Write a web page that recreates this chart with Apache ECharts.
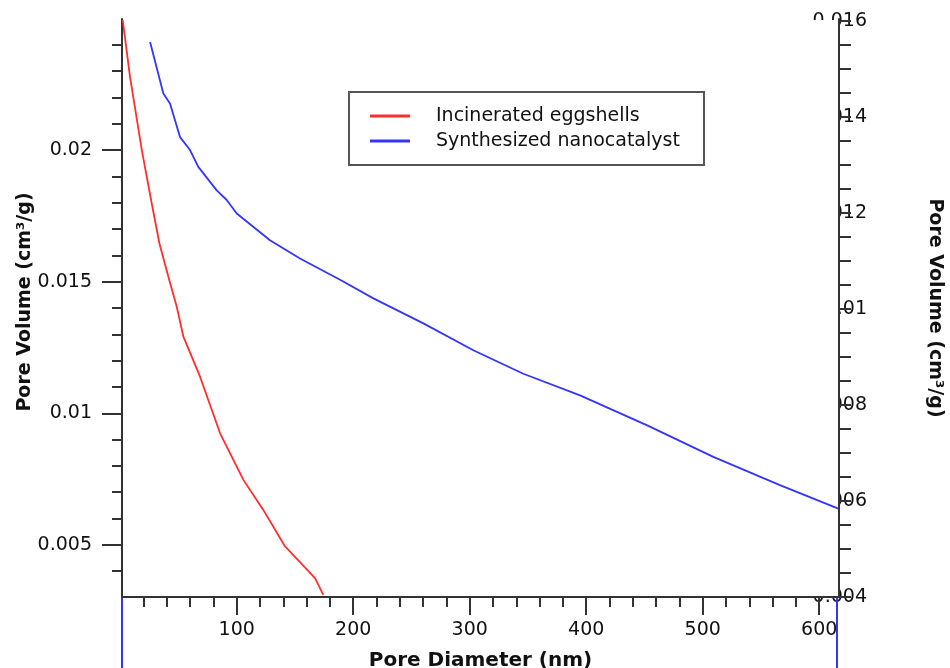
<!DOCTYPE html>
<html>
<head>
<meta charset="utf-8">
<script src="https://cdn.jsdelivr.net/npm/echarts@6/dist/echarts.min.js"></script>
<style>
  html, body { margin: 0; padding: 0; background: #fff; }
  #chart { width: 950px; height: 668px; }
</style>
</head>
<body>
<div id="chart"></div>
<script>
// Pore size distribution: cumulative pore volume against pore diameter
const seriesNames = ['Incinerated eggshells', 'Synthesized nanocatalyst'];

// Incinerated eggshells (left axis)
const eggDiameter = [2.1, 8.4, 18.5, 27.0, 33.6, 41.3, 48.5, 54.2, 68.5, 85.7, 105.7, 122.8, 141.5, 167.2, 174.3];
const eggVolume = [0.02494, 0.02278, 0.0200, 0.01798, 0.01646, 0.01519, 0.01405, 0.01291, 0.01139, 0.00924, 0.00747, 0.00633, 0.00494, 0.00374, 0.00310];

// Synthesized nanocatalyst (right axis)
const nanoDiameter = [25.6, 37.0, 42.7, 51.3, 59.9, 67.0, 82.8, 91.4, 100, 128.5, 154.3, 188.7, 217.3, 260.2, 303.1, 346.0, 394.7, 451.9, 509.1, 566.3, 616.4];
const nanoVolume = [0.01556, 0.01449, 0.01428, 0.01358, 0.01331, 0.01296, 0.01247, 0.01227, 0.01199, 0.01143, 0.01105, 0.01061, 0.01022, 0.00970, 0.00914, 0.00865, 0.00820, 0.00758, 0.00692, 0.00633, 0.00584];

// Axis ticks and labels
const xLabelTicks = [100, 200, 300, 400, 500, 600];
const xMinorTicks = [20, 40, 60, 80, 100, 120, 140, 160, 180, 200, 220, 240, 260, 280, 300, 320, 340, 360, 380, 400, 420, 440, 460, 480, 500, 520, 540, 560, 580, 600];
const leftLabelTicks = [0.005, 0.01, 0.015, 0.02];
const leftMinorTicks = [0.004, 0.005, 0.006, 0.007, 0.008, 0.009, 0.01, 0.011, 0.012, 0.013, 0.014, 0.015, 0.016, 0.017, 0.018, 0.019, 0.02, 0.021, 0.022, 0.023, 0.024];
const rightLabelTicks = [0.004, 0.006, 0.008, 0.01, 0.012, 0.014, 0.016];
const rightTicks = [0.004, 0.0045, 0.005, 0.0055, 0.006, 0.0065, 0.007, 0.0075, 0.008, 0.0085, 0.009, 0.0095, 0.01, 0.0105, 0.011, 0.0115, 0.012, 0.0125, 0.013, 0.0135, 0.014, 0.0145, 0.015, 0.0155, 0.016];

const xTitle = 'Pore Diameter (nm)';
const yTitle = 'Pore Volume (cm³/g)';

const FONT = 'DejaVu Sans';
const INK = '#111';
const AXIS = '#333';
const RED = '#ff2e2e';
const BLUE = '#3434ff';

// plot frame (pixels)
const G = { left: 122, top: 19, width: 717, height: 578 };

const X_MIN = 1.5, X_MAX = 617;
const L_MIN = 0.00302, L_MAX = 0.02498;
const R_MIN = 0.004, R_MAX = 0.01604;

const fmt = v => String(+(+v).toFixed(4));

const chart = echarts.init(document.getElementById('chart'), null, { renderer: 'canvas' });

const lineOn = () => ({ show: true, onZero: false, lineStyle: { color: AXIS, width: 2 } });
const lineOff = () => ({ show: false });
const tickStyle = () => ({ color: AXIS, width: 2 });

chart.setOption({
  animation: false,
  backgroundColor: '#fff',
  textStyle: { fontFamily: FONT },
  grid: {
    left: G.left, top: G.top, width: G.width, height: G.height,
    containLabel: false, outerBoundsMode: 'none'
  },
  legend: {
    data: seriesNames,
    orient: 'vertical',
    left: 370,
    top: 106,
    padding: 0,
    itemGap: 5,
    itemWidth: 40,
    itemHeight: 3,
    icon: 'rect',
    textStyle: { fontFamily: FONT, fontSize: 19, color: INK, lineHeight: 20, padding: [0, 0, 0, 21] },
    z: 5
  },
  xAxis: [
    {
      type: 'value', position: 'bottom', min: X_MIN, max: X_MAX, z: 2,
      axisLine: lineOn(),
      splitLine: { show: false },
      axisTick: { show: true, customValues: xLabelTicks, length: 18, lineStyle: tickStyle() },
      axisLabel: { show: true, customValues: xLabelTicks, formatter: fmt, margin: 24, fontFamily: FONT, fontSize: 19, color: INK },
      name: xTitle, nameLocation: 'middle', nameGap: 54, nameMoveOverlap: false,
      nameTextStyle: { fontFamily: FONT, fontSize: 20, fontWeight: 'bold', color: INK }
    },
    {
      type: 'value', position: 'bottom', min: X_MIN, max: X_MAX, z: 2,
      axisLine: lineOff(),
      splitLine: { show: false },
      axisTick: { show: true, customValues: xMinorTicks, length: 10, lineStyle: tickStyle() },
      axisLabel: { show: false }
    }
  ],
  yAxis: [
    {
      type: 'value', position: 'left', min: L_MIN, max: L_MAX, z: 2,
      axisLine: lineOn(),
      splitLine: { show: false },
      axisTick: { show: true, customValues: leftLabelTicks, length: 20, lineStyle: tickStyle() },
      axisLabel: { show: true, customValues: leftLabelTicks, formatter: fmt, margin: 30, fontFamily: FONT, fontSize: 19, color: INK },
      name: yTitle, nameLocation: 'middle', nameGap: 87, nameRotate: 90, nameMoveOverlap: false,
      nameTextStyle: { fontFamily: FONT, fontSize: 19, fontWeight: 'bold', color: INK, padding: [0, 0, 0, 12] }
    },
    {
      // right axis carrying the nanocatalyst series: frame line, ticks and title
      type: 'value', position: 'right', min: R_MIN, max: R_MAX, z: 2,
      axisLine: lineOn(),
      splitLine: { show: false },
      axisTick: { show: true, customValues: rightTicks, length: 12, lineStyle: tickStyle() },
      axisLabel: { show: false },
      name: yTitle, nameLocation: 'middle', nameGap: 86, nameRotate: -90, nameMoveOverlap: false,
      nameTextStyle: { fontFamily: FONT, fontSize: 19, fontWeight: 'bold', color: INK }
    },
    {
      type: 'value', position: 'left', min: L_MIN, max: L_MAX, z: 2,
      axisLine: lineOff(),
      splitLine: { show: false },
      axisTick: { show: true, customValues: leftMinorTicks, length: 10, lineStyle: tickStyle() },
      axisLabel: { show: false }
    },
    {
      // right-hand labels, drawn beneath the plot background so they tuck under the frame
      type: 'value', position: 'right', min: R_MIN, max: R_MAX, z: 0,
      axisLine: lineOff(),
      splitLine: { show: false },
      axisTick: { show: false },
      axisLabel: { show: true, customValues: rightLabelTicks, formatter: fmt, align: 'right', margin: 28, fontFamily: FONT, fontSize: 19, color: INK }
    }
  ],
  graphic: [
    { type: 'rect', z: 1, silent: true,
      shape: { x: G.left + 1, y: G.top + 1, width: G.width - 2, height: G.height - 2 },
      style: { fill: '#fff' } },
    // legend frame
    { type: 'rect', z: 4, silent: true,
      shape: { x: 349, y: 92, width: 355, height: 73 },
      style: { fill: '#fff', stroke: '#555', lineWidth: 2 } },
    // blue edge rules below the frame
    { type: 'line', z: 3, silent: true,
      shape: { x1: G.left, y1: G.top + G.height + 1, x2: G.left, y2: 668 },
      style: { stroke: BLUE, lineWidth: 2 } },
    { type: 'line', z: 3, silent: true,
      shape: { x1: G.left + G.width - 2, y1: G.top + G.height + 1, x2: G.left + G.width - 2, y2: 668 },
      style: { stroke: BLUE, lineWidth: 2 } }
  ],
  series: [
    {
      name: seriesNames[0], type: 'line', xAxisIndex: 0, yAxisIndex: 0,
      data: eggDiameter.map((d, i) => [d, eggVolume[i]]),
      showSymbol: false, symbol: 'none', smooth: false, clip: true,
      lineStyle: { color: RED, width: 1.8 }, itemStyle: { color: RED }, z: 3
    },
    {
      name: seriesNames[1], type: 'line', xAxisIndex: 0, yAxisIndex: 1,
      data: nanoDiameter.map((d, i) => [d, nanoVolume[i]]),
      showSymbol: false, symbol: 'none', smooth: false, clip: true,
      lineStyle: { color: BLUE, width: 1.8 }, itemStyle: { color: BLUE }, z: 3
    }
  ]
});
</script>
</body>
</html>
